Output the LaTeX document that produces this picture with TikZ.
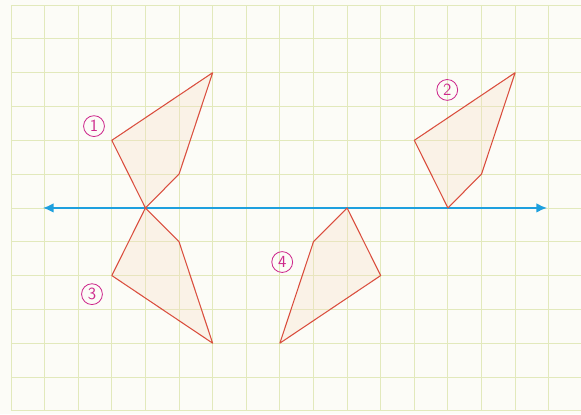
\documentclass[tikz,border=0pt]{standalone}
\usepackage{tikz}
\usetikzlibrary{arrows.meta}
\definecolor{paper}{RGB}{252,252,247}
\definecolor{gridcol}{RGB}{226,233,188}
\definecolor{axiscol}{RGB}{30,160,222}
\definecolor{edgecol}{RGB}{218,78,62}
\definecolor{tagcol}{RGB}{205,40,140}
\definecolor{tintcol}{RGB}{248,222,195}

\begin{document}
\begin{tikzpicture}[
    x=1cm, y=1.006cm,
    gridline/.style={gridcol, line width=0.7pt},
    axis/.style={{Latex[length=9pt,width=8pt]}-{Latex[length=9pt,width=8pt]}, axiscol, line width=1.3pt},
    piece/.style={edgecol, line width=0.9pt, line join=round, fill=tintcol, fill opacity=0.3},
    tag/.style={circle, draw=tagcol, text=tagcol, line width=0.7pt, minimum size=0.62cm, inner sep=0pt, font=\sffamily\Large}
]
    % Paper
    \fill[paper] (-0.327,-6.10) rectangle (16.96,6.15);
    \useasboundingbox (-0.327,-6.10) rectangle (16.96,6.15);

    % Squared grid
    \foreach \x in {0,...,16} {
        \draw[gridline] (\x,-6) -- (\x,6);
    }
    \foreach \y in {-6,...,6} {
        \draw[gridline] (0,\y) -- (16.96,\y);
    }

    % Axis of symmetry
    \coordinate (axisL) at (0.95,0);
    \coordinate (axisR) at (15.95,0);
    \draw[axis] (axisL) -- (axisR);

    % Figure 1
    \draw[piece] (3,2) coordinate (a1) -- (6,4) coordinate (b1) -- (5,1) coordinate (c1) -- (4,0) coordinate (d1) -- cycle;
    % Figure 2 (translated)
    \draw[piece] (12,2) coordinate (a2) -- (15,4) coordinate (b2) -- (14,1) coordinate (c2) -- (13,0) coordinate (d2) -- cycle;
    % Figure 3 (reflected)
    \draw[piece] (3,-2) coordinate (a3) -- (6,-4) coordinate (b3) -- (5,-1) coordinate (c3) -- (4,0) coordinate (d3) -- cycle;
    % Figure 4 (rotated)
    \draw[piece] (11,-2) coordinate (a4) -- (8,-4) coordinate (b4) -- (9,-1) coordinate (c4) -- (10,0) coordinate (d4) -- cycle;

    % Labels
    \node[tag] (t1) at (2.47,2.42) {1};
    \node[tag] (t2) at (12.98,3.49) {2};
    \node[tag] (t3) at (2.41,-2.55) {3};
    \node[tag] (t4) at (8.07,-1.60) {4};
\end{tikzpicture}
\end{document}
